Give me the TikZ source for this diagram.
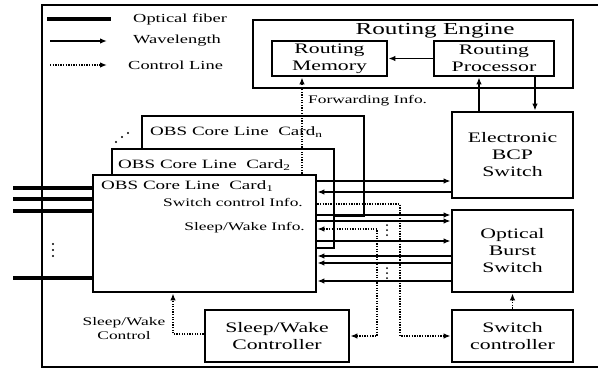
\documentclass[tikz,border=0pt]{standalone}
\usepackage{fontspec}
\setmainfont[FakeStretch=1.5]{Liberation Serif}
\usetikzlibrary{arrows.meta}
\begin{document}
\begin{tikzpicture}[x=1pt,y=-1pt,
  box/.style={draw,line width=2.8pt,fill=white,inner sep=0pt,align=center,
    font=\fontsize{14.5}{17}\selectfont},
  card/.style={draw,line width=2.8pt,fill=white,inner sep=0pt},
  fiber/.style={line width=4.2pt},
  wl/.style={line width=1.4pt,-{Latex[length=7pt,width=5.5pt]}},
  ctl/.style={line width=1.6pt,dash pattern=on 1.3pt off 1.3pt,-{Latex[length=7pt,width=5.5pt]}},
  ctlb/.style={line width=1.6pt,dash pattern=on 1.3pt off 1.3pt,{Latex[length=7pt,width=5.5pt]}-{Latex[length=7pt,width=5.5pt]}},
  lgd/.style={anchor=west,inner sep=0pt,font=\fontsize{12.3}{14}\selectfont},
  small/.style={inner sep=0pt,font=\fontsize{11.6}{14}\selectfont},
  ctitle/.style={anchor=west,inner sep=0pt,font=\fontsize{12.7}{14}\selectfont},
  dotc/.style={circle,fill=black,inner sep=0pt,minimum size=2.2pt}
]
\useasboundingbox (0,0) rectangle (598,370);
% outer frame
\draw[line width=2.8pt] (600,5) -- (42,5) -- (42,367) -- (600,367);
% legend
\coordinate (l1a) at (47,19); \coordinate (l1b) at (111,19);
\coordinate (l2a) at (50,41); \coordinate (l2b) at (107,41);
\coordinate (l3a) at (50,65); \coordinate (l3b) at (107,65);
\draw[fiber] (l1a) -- (l1b);
\draw[wl] (l2a) -- (l2b);
\draw[ctl] (l3a) -- (l3b);
\node[lgd] (t1) at (133,19) {Optical fiber};
\node[lgd] (t2) at (133,41) {Wavelength};
\node[lgd] (t3) at (128,65) {Control Line};
% routing engine
\node[box,minimum width=320pt,minimum height=68pt] (re) at (413,54) {};
\node[inner sep=0pt,font=\fontsize{16.8}{18}\selectfont] (ret) at (435,31) {Routing Engine};
\node[box,minimum width=115pt,minimum height=35pt] (rm) at (329.5,58.5) {Routing\\Memory};
\node[box,minimum width=120pt,minimum height=35pt] (rp) at (494,58.5) {Routing\\Processor};
% right boxes
\node[box,minimum width=121pt,minimum height=86pt] (bcp) at (512.5,155) {Electronic\\BCP\\Switch};
\node[box,minimum width=121pt,minimum height=82pt] (obs) at (512.5,251) {Optical\\Burst\\Switch};
\node[box,minimum width=121pt,minimum height=52pt] (sc) at (512.5,336) {Switch\\controller};
\node[box,minimum width=144pt,minimum height=52pt] (swc) at (277,336) {Sleep/Wake\\Controller};
% cards
\node[card,minimum width=222pt,minimum height=100pt] (cardn) at (253,166) {};
\node[card,minimum width=222pt,minimum height=99pt] (card2) at (223,198.5) {};
\node[card,minimum width=223pt,minimum height=117pt] (card1) at (204.5,233.5) {};
\node[ctitle] (ctn) at (150,132) {OBS Core Line\ \ Card\textsubscript{n}};
\node[ctitle] (ct2) at (118,165) {OBS Core Line\ \ Card\textsubscript{2}};
\node[ctitle] (ct1) at (101,186) {OBS Core Line\ \ Card\textsubscript{1}};
\node[small,anchor=east] (sci) at (303,202) {Switch control Info.};
\node[small,anchor=east] (swi) at (305,228) {Sleep/Wake Info.};
% diagonal dots
\node[dotc] (dd1) at (116,142) {};
\node[dotc] (dd2) at (122,137) {};
\node[dotc] (dd3) at (128,133) {};
% fibers
\coordinate (f1) at (13,188); \coordinate (f2) at (13,199);
\coordinate (f3) at (13,211); \coordinate (f4) at (13,278);
\draw[fiber] (f1) -- (f1 -| card1.west);
\draw[fiber] (f2) -- (f2 -| card1.west);
\draw[fiber] (f3) -- (f3 -| card1.west);
\draw[fiber] (f4) -- (f4 -| card1.west);
\node[dotc] (vd1) at (53,244) {};
\node[dotc] (vd2) at (53,250) {};
\node[dotc] (vd3) at (53,256) {};
% routing engine arrows
\draw[wl] (rp.west) -- (rm.east);
\draw[wl] (bcp.north -| 479,0) -- (rp.south -| 479,0);
\draw[wl] (rp.south -| 535,0) -- (bcp.north -| 535,0);
% forwarding info
\draw[ctl] (card1.north -| 302,0) -- (rm.south -| 302,0);
\node[small,anchor=west] (fwd) at (308,101) {Forwarding Info.};
% card1 <-> BCP
\draw[wl] (card1.east |- 0,181) -- (bcp.west |- 0,181);
\draw[wl] (bcp.west |- 0,192) -- (card1.east |- 0,192);
% card1 <-> OBS
\draw[wl] (card1.east |- 0,215) -- (obs.west |- 0,215);
\draw[wl] (card1.east |- 0,221) -- (obs.west |- 0,221);
\draw[wl] (card1.east |- 0,241) -- (obs.west |- 0,241);
\draw[wl] (obs.west |- 0,256) -- (card1.east |- 0,256);
\draw[wl] (obs.west |- 0,263) -- (card1.east |- 0,263);
\draw[wl] (obs.west |- 0,281) -- (card1.east |- 0,281);
% control lines
\draw[ctl] (card1.east |- 0,204) -- (400,204) -- (400,336) -- (sc.west);
\draw[ctlb] (card1.east |- 0,229) -- (377,229) -- (377,336) -- (swc.east);
\draw[ctl] (sc.north) -- (obs.south);
\draw[ctl] (swc.west |- 0,334) -- (173,334) -- (card1.south -| 173,0);
\node[small,align=center,font=\fontsize{11.6}{14}\selectfont] (swcl) at (124,329) {Sleep/Wake\\Control};
% vertical dots middle
\node[dotc,minimum size=2pt] (md1) at (387,225) {};
\node[dotc,minimum size=2pt] (md2) at (387,230) {};
\node[dotc,minimum size=2pt] (md3) at (387,235) {};
\node[dotc,minimum size=2pt] (md4) at (387,268) {};
\node[dotc,minimum size=2pt] (md5) at (387,273) {};
\node[dotc,minimum size=2pt] (md6) at (387,278) {};
\end{tikzpicture}
\end{document}
